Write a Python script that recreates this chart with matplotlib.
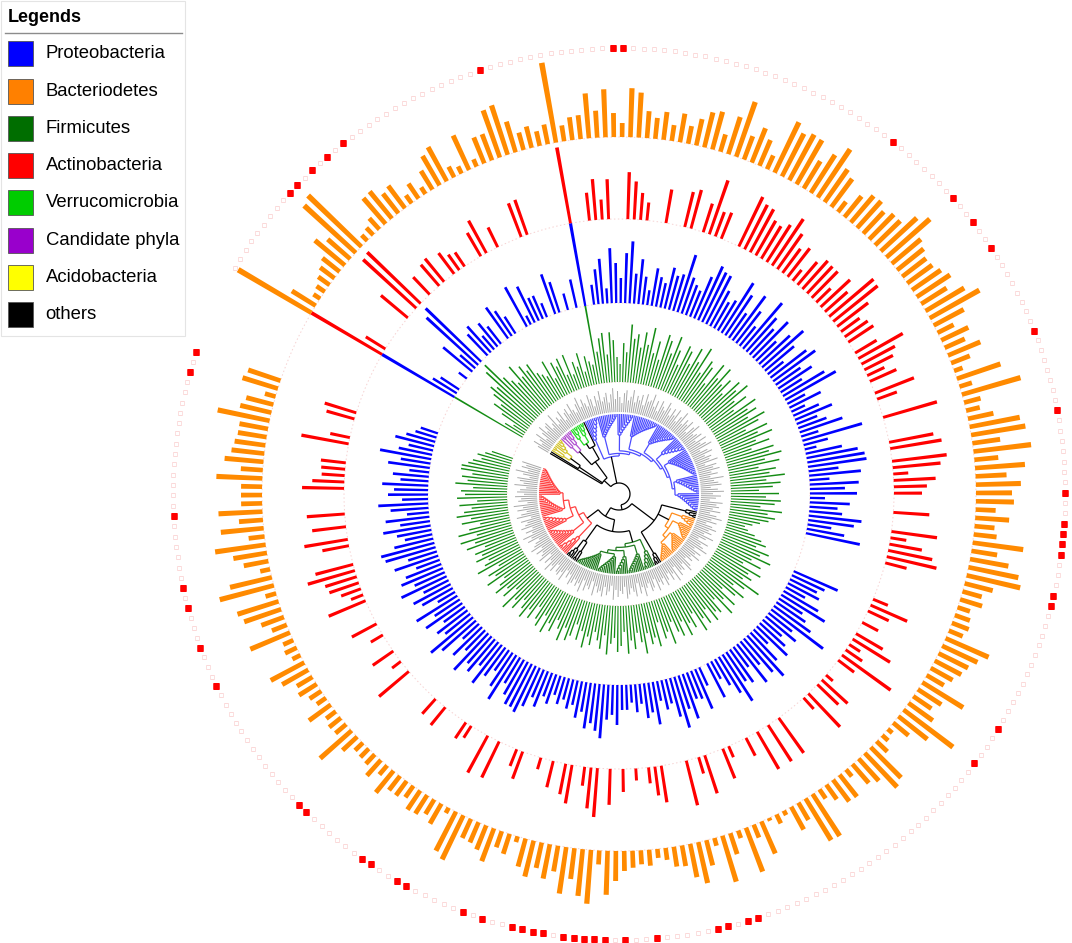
import numpy as np
import matplotlib.pyplot as plt
from matplotlib.patches import Rectangle
from matplotlib.collections import LineCollection

plt.rcParams['font.family'] = ['Liberation Sans', 'DejaVu Sans']

# ---------------- data ----------------
# leaves are listed clockwise, starting with the lone long branch (upper left)

# blocks of leaves in tree order and the size of the sub-clades inside each block
block_phylum = ["others", "others", "Acidobacteria", "Candidate phyla", "Verrucomicrobia",
                "others", "Proteobacteria", "others", "Bacteriodetes", "others",
                "Firmicutes", "others", "Actinobacteria"]
block_subgroups = [[1], [1], [3, 5], [3, 4], [4, 4],
                   [1], [7, 11, 9, 14, 12, 8, 15, 10, 10], [4], [5, 8, 9, 8], [4],
                   [6, 9, 7, 10, 12], [3, 4], [6, 10, 8, 12, 15]]

legend_labels = ["Proteobacteria", "Bacteriodetes", "Firmicutes", "Actinobacteria",
                 "Verrucomicrobia", "Candidate phyla", "Acidobacteria", "others"]
legend_colors = ["#0000ff", "#ff8000", "#006e00", "#ff0000",
                 "#00cc00", "#9900cc", "#ffff00", "#000000"]

# grey leaf extension just outside the tree
gray_len = [
    12, 18, 10, 14, 20, 9, 16, 22, 13, 18,
    20, 11, 15, 24, 10, 17, 13, 21, 9, 16,
    19, 12, 22, 14, 10, 18, 24, 13, 20, 15,
    11, 22, 17, 9, 19, 14, 23, 12, 16, 20,
    10, 18, 24, 13, 21, 15, 9, 19, 22, 12,
    16, 23, 11, 18, 14, 20, 10, 22, 15, 17,
    24, 12, 19, 9, 21, 16, 13, 23, 18, 11,
    20, 14, 22, 10, 17, 24, 12, 19, 15, 21,
    9, 18, 23, 13, 16, 20, 11, 22, 14, 19,
    24, 10, 17, 21, 12, 18, 15, 23, 9, 20,
    16, 22, 13, 19, 11, 24, 14, 18, 21, 10,
    17, 23, 12, 20, 15, 9, 22, 16, 19, 13,
    21, 11, 18, 24, 14, 20, 10, 17, 22, 15,
    19, 12, 23, 16, 9, 21, 14, 18, 24, 11,
    20, 15, 22, 13, 17, 10, 19, 23, 12, 18,
    16, 21, 9, 24, 14, 20, 11, 17, 22, 13,
    19, 15, 23, 10, 18, 21, 12, 16, 24, 14,
    20, 9, 22, 17, 13, 19, 23, 11, 18, 15,
    21, 14, 24, 10, 16, 20, 12, 22, 17, 19,
    13, 23, 9, 18, 15, 21, 11, 24, 16, 20,
    14, 19, 22, 12, 17, 10, 23, 15, 20, 18,
    11, 21, 16, 24, 13, 19, 9, 22, 17, 14,
    20, 12, 23, 18, 15, 10, 21, 16, 24, 13,
    19, 11, 22, 17, 14, 20, 9, 23, 18, 12,
    21, 15, 24, 10, 19, 16, 22, 13, 20, 17,
    11, 23, 14, 18, 21, 9, 16, 24, 12, 19,
    15, 20]

# ring 1 (green)
green_vals = [
    79, 22, 14, 30, 42, 36, 48, 55, 50, 68,
    74, 52, 44, 38, 56, 40, 50, 42, 47, 34,
    30, 26, 41, 20, 36, 30, 37, 18, 38, 16,
    28, 22, 35, 15, 30, 24, 20, 79, 32, 45,
    50, 28, 50, 42, 25, 18, 39, 30, 58, 44,
    49, 36, 52, 40, 58, 33, 46, 28, 55, 50,
    38, 57, 44, 30, 52, 48, 36, 55, 42, 60,
    34, 50, 45, 28, 54, 40, 55, 38, 47, 32,
    52, 44, 56, 36, 48, 30, 54, 42, 50, 38,
    55, 46, 30, 52, 40, 54, 35, 48, 28, 50,
    44, 56, 38, 52, 30, 47, 40, 55, 36, 50,
    42, 28, 48, 35, 50, 44, 30, 52, 38, 46,
    40, 32, 25, 18, 22, 30, 38, 44, 35, 50,
    42, 55, 36, 48, 30, 52, 40, 46, 38, 60,
    45, 34, 50, 42, 28, 48, 36, 52, 30, 44,
    40, 48, 32, 46, 38, 50, 28, 42, 35, 47,
    30, 44, 38, 26, 48, 34, 40, 22, 46, 36,
    42, 30, 50, 38, 28, 44, 35, 48, 26, 40,
    46, 32, 38, 49, 30, 44, 36, 28, 42, 34,
    46, 30, 40, 25, 38, 44, 32, 47, 36, 28,
    42, 35, 47, 30, 44, 38, 26, 42, 34, 46,
    38, 30, 44, 36, 50, 28, 42, 34, 46, 38,
    30, 48, 36, 42, 28, 50, 40, 34, 46, 38,
    44, 32, 50, 40, 54, 36, 54, 42, 30, 48,
    38, 52, 44, 36, 48, 30, 50, 42, 46, 34,
    52, 40, 46, 36, 48, 48, 42, 38, 30, 35,
    28, 22]

# ring 2 (blue)
blue_vals = [
    84, 28, 22, 0, 0, 10, 0, 38, 20, 70,
    77, 0, 29, 35, 18, 30, 22, 0, 38, 30,
    20, 0, 0, 45, 10, 40, 25, 25, 15, 0,
    42, 32, 0, 17, 0, 29, 0, 84, 0, 20,
    35, 45, 15, 55, 40, 25, 50, 62, 30, 45,
    28, 15, 38, 30, 25, 42, 35, 38, 60, 38,
    32, 28, 45, 59, 55, 54, 40, 30, 35, 59,
    48, 30, 55, 40, 25, 60, 45, 35, 50, 28,
    42, 55, 38, 20, 45, 52, 30, 40, 25, 48,
    58, 20, 35, 15, 28, 40, 22, 30, 45, 18,
    62, 25, 12, 37, 52, 58, 59, 30, 52, 20,
    49, 35, 47, 15, 40, 28, 33, 53, 46, 24,
    38, 55, 0, 0, 0, 0, 0, 0, 0, 0,
    48, 36, 30, 35, 22, 40, 51, 28, 35, 45,
    65, 30, 39, 25, 34, 42, 20, 38, 54, 44,
    30, 48, 25, 40, 35, 55, 42, 30, 20, 38,
    0, 20, 43, 30, 28, 47, 35, 53, 40, 25,
    30, 20, 43, 30, 35, 20, 28, 18, 25, 25,
    40, 30, 35, 54, 47, 40, 46, 30, 37, 25,
    30, 22, 28, 20, 31, 25, 38, 30, 42, 51,
    48, 48, 40, 30, 52, 40, 25, 35, 48, 30,
    42, 36, 50, 28, 40, 22, 45, 55, 32, 38,
    26, 44, 30, 48, 20, 35, 42, 28, 50, 33,
    45, 38, 25, 46, 30, 52, 55, 40, 28, 35,
    48, 30, 44, 22, 38, 50, 26, 40, 34, 46,
    28, 36, 20, 42, 30, 52, 34, 25, 40, 30,
    22, 18]

# ring 3 (red)
red_vals = [
    82, 23, 0, 0, 0, 0, 0, 35, 0, 72,
    74, 0, 24, 0, 28, 30, 0, 26, 19, 17,
    0, 0, 27, 37, 0, 22, 0, 0, 0, 36,
    37, 0, 0, 0, 0, 0, 0, 77, 0, 0,
    28, 41, 20, 40, 0, 0, 47, 38, 27, 18,
    0, 0, 34, 0, 0, 36, 40, 0, 30, 57,
    26, 28, 0, 0, 55, 50, 49, 40, 38, 44,
    56, 43, 30, 36, 14, 30, 38, 37, 37, 20,
    40, 30, 58, 57, 39, 23, 28, 30, 0, 25,
    51, 38, 32, 19, 29, 0, 42, 21, 0, 0,
    56, 0, 0, 0, 45, 52, 0, 55, 48, 15,
    42, 33, 28, 0, 0, 36, 0, 0, 46, 16,
    33, 45, 51, 22, 0, 0, 0, 0, 0, 16,
    40, 23, 0, 18, 0, 31, 44, 13, 20, 60,
    20, 0, 0, 9, 35, 29, 0, 46, 15, 0,
    0, 0, 0, 43, 0, 43, 0, 43, 0, 20,
    0, 0, 12, 32, 0, 0, 40, 17, 0, 46,
    0, 0, 0, 37, 29, 16, 0, 12, 0, 23,
    0, 36, 0, 49, 41, 19, 0, 39, 31, 0,
    27, 0, 12, 0, 0, 29, 18, 0, 0, 40,
    0, 42, 0, 0, 14, 19, 0, 0, 0, 23,
    0, 20, 0, 0, 0, 0, 0, 39, 0, 11,
    0, 25, 0, 0, 14, 0, 28, 0, 0, 0,
    40, 13, 21, 31, 33, 49, 39, 0, 0, 27,
    44, 0, 34, 0, 38, 0, 0, 0, 42, 32,
    23, 24, 25, 0, 0, 48, 20, 0, 0, 29,
    33, 0]

# ring 4 (orange)
orange_vals = [
    85, 28, 8, 10, 14, 18, 22, 39, 30, 70,
    74, 8, 10, 15, 34, 35, 25, 28, 10, 18,
    8, 22, 34, 39, 12, 8, 38, 8, 28, 28,
    50, 52, 32, 18, 22, 15, 20, 81, 16, 23,
    24, 45, 27, 48, 24, 14, 49, 45, 27, 21,
    28, 16, 29, 18, 27, 36, 39, 18, 39, 58,
    25, 37, 28, 15, 56, 48, 52, 51, 32, 45,
    58, 40, 35, 13, 27, 35, 36, 30, 35, 35,
    49, 58, 38, 34, 30, 31, 35, 40, 30, 45,
    57, 34, 18, 30, 22, 35, 20, 9, 46, 13,
    61, 17, 14, 26, 51, 55, 28, 58, 24, 50,
    31, 45, 36, 38, 20, 34, 20, 23, 51, 26,
    39, 51, 55, 29, 20, 23, 13, 16, 18, 15,
    47, 39, 33, 30, 25, 20, 48, 28, 22, 30,
    62, 37, 20, 6, 8, 15, 43, 47, 30, 25,
    9, 28, 27, 18, 11, 50, 49, 20, 26, 5,
    10, 3, 35, 14, 47, 8, 22, 48, 8, 26,
    42, 34, 21, 20, 12, 9, 16, 14, 17, 20,
    30, 44, 14, 54, 47, 31, 47, 26, 35, 26,
    37, 29, 6, 21, 17, 35, 26, 22, 21, 49,
    44, 6, 23, 17, 22, 23, 14, 18, 18, 28,
    12, 21, 13, 12, 11, 20, 42, 14, 15, 12,
    27, 11, 14, 21, 18, 30, 38, 9, 13, 11,
    43, 16, 24, 39, 43, 11, 56, 43, 10, 25,
    34, 51, 16, 43, 24, 44, 21, 21, 21, 46,
    22, 39, 33, 31, 29, 29, 53, 32, 28, 11,
    37, 34]

# outer ring of squares: leaves with a filled square
filled_squares = [9, 10, 12, 14, 16, 31, 44, 45, 73, 81, 84, 87, 96, 104, 112,
                  115, 116, 117, 118, 122, 123, 136, 140, 166, 167, 169, 170, 176,
                  179, 181, 182, 183, 184, 185, 187, 188, 189, 190, 193, 195, 201,
                  202, 205, 206, 213, 214, 228, 232, 236, 238, 245, 259, 261]

# ---------------- layout ----------------
n_leaves = sum(sum(s) for s in block_subgroups)
start_deg = 149.5
span_deg = 348.0
step_deg = span_deg / (n_leaves - 1)
theta = np.deg2rad(start_deg - np.arange(n_leaves) * step_deg)
dtheta = np.deg2rad(step_deg)

R_TIP = 80
R_GRAY = 82
BASE_GREEN, BASE_BLUE, BASE_RED, BASE_ORANGE = 112, 191, 275, 357
R_SQUARE = 446

tree_colors = {"Proteobacteria": "#4d4dff", "Bacteriodetes": "#ff8c1a",
               "Firmicutes": "#1f7a1f", "Actinobacteria": "#ff4040",
               "Verrucomicrobia": "#22dd22", "Candidate phyla": "#b050d0",
               "Acidobacteria": "#d4c42a", "others": "#000000"}
# (inner, outer) radius of the ladder joining the sub-clades of each block
block_radii = [None, None, (60, 64), (58, 63), (60, 65), None, (38, 56),
               (58, 66), (56, 64), (58, 66), (50, 60), (58, 66), (40, 56)]

fig = plt.figure(figsize=(10.72, 9.43), dpi=100)
cx, cy, R = 619, 494, 455
ax = fig.add_axes([(cx - R) / 1072, (943 - cy - R) / 943, 2 * R / 1072, 2 * R / 943],
                  projection='polar')
ax.set_ylim(0, R)
ax.axis('off')


# ---------------- tree ----------------
def node(r, kids, color="#000000"):
    return {"r": r, "kids": kids, "color": color}


def ladder(items, r0, r1, color):
    # caterpillar: first item splits off at r0, the rest nest outwards
    if len(items) == 1:
        return items[0]
    rs = np.linspace(r0, r1, len(items) - 1)
    nd = items[-1]
    for k in range(len(items) - 2, -1, -1):
        nd = node(rs[k], [items[k], nd], color)
    return nd


blocks = []
pos = 0
for phylum, subs, rr in zip(block_phylum, block_subgroups, block_radii):
    col = tree_colors[phylum]
    groups = []
    for s in subs:
        leaves = [{"leaf": pos + j, "color": col} for j in range(s)]
        pos += s
        if rr is None:
            groups.append(ladder(leaves, 60, R_TIP - 3, col))
        else:
            groups.append(ladder(leaves, rr[1] + 3, R_TIP - 3, col))
    if rr is None:
        blocks.append(groups[0])
    else:
        blocks.append(ladder(groups, rr[0], rr[1], col))

b = blocks
grp_a = node(20, [b[0], node(48, [b[1], b[2]]), node(40, [b[3], node(54, [b[4], b[5]])])])
grp_c = node(16, [node(44, [b[7], b[8], b[9]]), node(26, [node(38, [b[10], b[11]]), b[12]])])
root = node(11, [grp_a, b[6], grp_c])

segs, seg_cols = [], []


def draw(nd):
    if "leaf" in nd:
        return theta[nd["leaf"]], R_TIP
    pts = [draw(k) for k in nd["kids"]]
    angs = [p[0] for p in pts]
    r = nd["r"]
    for a, rk in pts:
        segs.append([(a, r), (a, rk)])
        seg_cols.append(nd["color"])
    arc = np.linspace(min(angs), max(angs), 60)
    segs.append(list(zip(arc, np.full_like(arc, r))))
    seg_cols.append(nd["color"])
    return (min(angs) + max(angs)) / 2, r


draw(root)
ax.add_collection(LineCollection(segs, colors=seg_cols, linewidths=0.9, zorder=3))

# grey leaf extensions
g = np.array(gray_len)
ax.vlines(theta, R_GRAY, R_GRAY + g, color="#a8a8a8", linewidth=0.7, zorder=2)

# faint base circles of the rings
full = np.linspace(0, 2 * np.pi, 720)
for base in (BASE_GREEN, BASE_BLUE, BASE_RED, BASE_ORANGE):
    ax.plot(full, np.full_like(full, base), color="#f6d2d2", lw=0.7, ls=(0, (1.5, 2.5)), zorder=1)

# ---------------- bar rings ----------------
rings = [(green_vals, BASE_GREEN, "#148c14", 0.40),
         (blue_vals, BASE_BLUE, "#0000ff", 0.50),
         (red_vals, BASE_RED, "#ff0000", 0.45),
         (orange_vals, BASE_ORANGE, "#ff8a00", 0.55)]
for vals, base, col, wfrac in rings:
    v = np.array(vals, dtype=float)
    m = v > 0
    ax.bar(theta[m], v[m], width=dtheta * wfrac, bottom=base, color=col,
           linewidth=0, align='center', zorder=4)

# ---------------- outer squares ----------------
filled = np.zeros(n_leaves, dtype=bool)
filled[filled_squares] = True
ax.scatter(theta[~filled], np.full((~filled).sum(), R_SQUARE), marker='s', s=12,
           facecolors="white", edgecolors="#fbd9d9", linewidths=0.6, zorder=5)
ax.scatter(theta[filled], np.full(filled.sum(), R_SQUARE), marker='s', s=15,
           facecolors="#ff0000", edgecolors="#ff0000", linewidths=0.4, zorder=5)

# ---------------- legend ----------------
lax = fig.add_axes([0, 0, 1, 1], zorder=10)
lax.set_xlim(0, 1072)
lax.set_ylim(943, 0)
lax.axis('off')
lax.add_patch(Rectangle((1, 1), 184, 335, facecolor="white", edgecolor="#e4e4e4", lw=0.8))
lax.text(8, 17, "Legends", fontsize=13, fontweight='bold', va='center', ha='left')
lax.plot([5, 182], [32.5, 32.5], color="#8c8c8c", lw=1.0)
for k, (lab, col) in enumerate(zip(legend_labels, legend_colors)):
    yc = 53.7 + k * 37.3
    lax.add_patch(Rectangle((7.5, yc - 12.5), 25.5, 25, facecolor=col,
                            edgecolor="#555555", lw=0.6))
    lax.text(45.5, yc, lab, fontsize=13.3, va='center', ha='left')

fig.savefig("out.png", dpi=100)
